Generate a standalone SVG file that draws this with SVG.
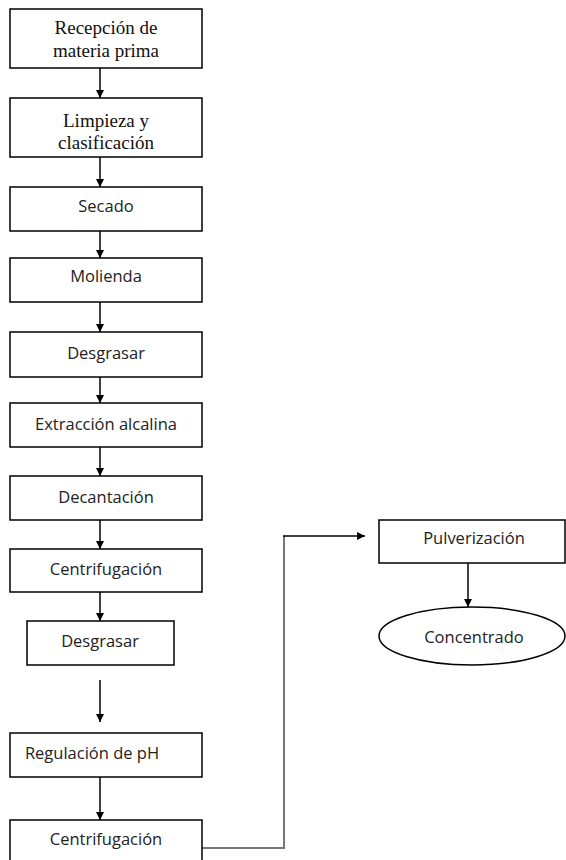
<svg xmlns="http://www.w3.org/2000/svg" width="566" height="860" viewBox="0 0 566 860">
<defs>
<marker id="ah" viewBox="0 0 10 10" refX="10" refY="5" markerWidth="8" markerHeight="8" markerUnits="userSpaceOnUse" orient="auto">
<path d="M0,0 L10,5 L0,10 z" fill="#000"/>
</marker>
<style>
.box{fill:#fff;stroke:#000;stroke-width:1.5}
.serif{font-family:"Liberation Serif","Times New Roman",serif;font-size:19px;fill:#111;text-anchor:middle;dominant-baseline:central}
.sans{font-family:"Open Sans","Liberation Sans",sans-serif;font-size:16.5px;fill:#222;text-anchor:middle;dominant-baseline:central}
.arr{stroke:#000;stroke-width:1.5;fill:none;marker-end:url(#ah)}
</style>
</defs>
<rect width="566" height="860" fill="#fff"/>
<g id="connectors">
<line class="arr" x1="100" y1="68" x2="100" y2="98"/>
<line class="arr" x1="100" y1="157" x2="100" y2="187"/>
<line class="arr" x1="100" y1="231" x2="100" y2="258"/>
<line class="arr" x1="100" y1="302" x2="100" y2="332"/>
<line class="arr" x1="100" y1="377" x2="100" y2="403"/>
<line class="arr" x1="100" y1="447" x2="100" y2="476"/>
<line class="arr" x1="100" y1="520" x2="100" y2="549"/>
<line class="arr" x1="100" y1="592" x2="100" y2="621"/>
<line class="arr" x1="100" y1="680" x2="100" y2="722"/>
<line class="arr" x1="100" y1="777" x2="100" y2="820"/>
<polyline points="202,848 284,848 284,536" fill="none" stroke="#777" stroke-width="2"/>
<polyline class="arr" points="283,536 365,536"/>
<line class="arr" x1="468" y1="563" x2="468" y2="607"/>
</g>
<g id="n1"><rect class="box" x="10" y="9" width="192" height="59"/><text class="serif" x="106" y="27">Recepción de</text><text class="serif" x="106" y="50">materia prima</text></g>
<g id="n2"><rect class="box" x="10" y="98" width="192" height="59"/><text class="serif" x="106" y="120">Limpieza y</text><text class="serif" x="106" y="142">clasificación</text></g>
<g id="n3"><rect class="box" x="10" y="187" width="192" height="44"/><text class="sans" x="106" y="205">Secado</text></g>
<g id="n4"><rect class="box" x="10" y="258" width="192" height="44"/><text class="sans" x="106" y="275">Molienda</text></g>
<g id="n5"><rect class="box" x="10" y="332" width="192" height="45"/><text class="sans" x="106" y="352">Desgrasar</text></g>
<g id="n6"><rect class="box" x="10" y="403" width="192" height="44"/><text class="sans" x="106" y="423">Extracción alcalina</text></g>
<g id="n7"><rect class="box" x="10" y="476" width="192" height="44"/><text class="sans" x="106" y="496">Decantación</text></g>
<g id="n8"><rect class="box" x="10" y="549" width="192" height="43"/><text class="sans" x="106" y="568">Centrifugación</text></g>
<g id="n9"><rect class="box" x="27" y="621" width="147" height="44"/><text class="sans" x="100" y="640">Desgrasar</text></g>
<g id="n10"><rect class="box" x="10" y="733" width="192" height="44"/><text class="sans" x="92" y="752">Regulación de pH</text></g>
<g id="n11"><rect class="box" x="10" y="820" width="192" height="45"/><text class="sans" x="106" y="838">Centrifugación</text></g>
<g id="n12"><rect class="box" x="379" y="520" width="186" height="43"/><text class="sans" x="474" y="537">Pulverización</text></g>
<g id="n13"><ellipse class="box" cx="472" cy="636" rx="93" ry="29"/><text class="sans" x="474" y="636">Concentrado</text></g>
</svg>
